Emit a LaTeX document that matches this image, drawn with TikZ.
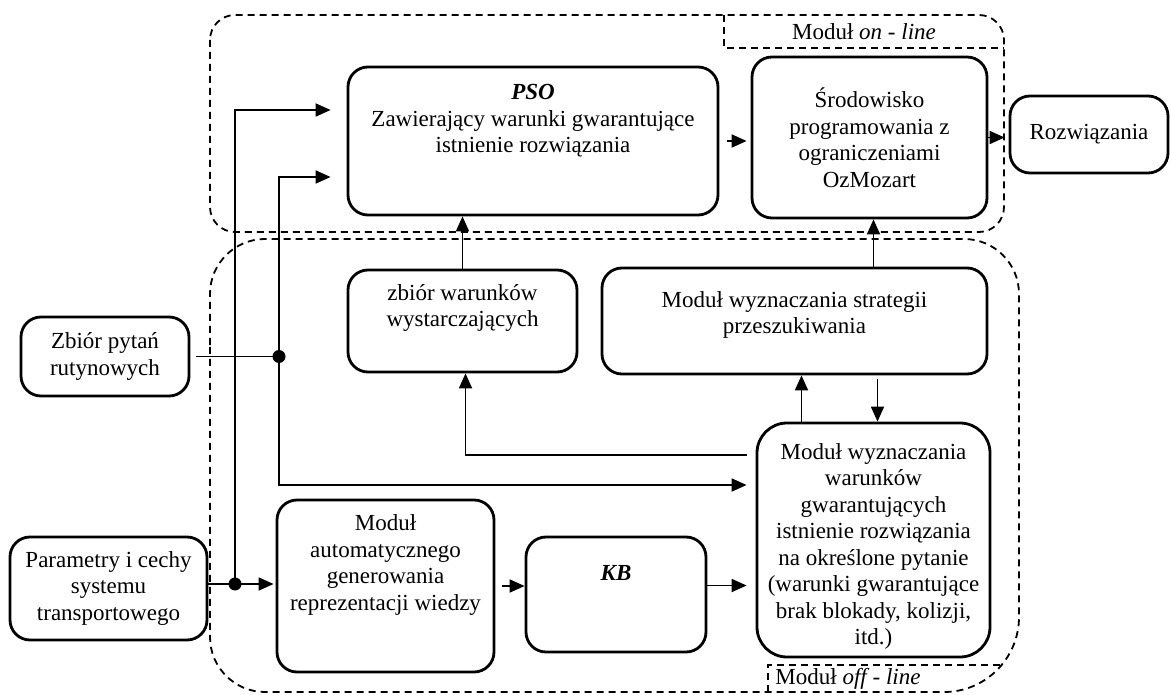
\documentclass[tikz,border=0pt]{standalone}
\usepackage{fontspec}
\setmainfont{Liberation Serif}
\usetikzlibrary{arrows.meta,calc}
\begin{document}
\begin{tikzpicture}[x=1pt,y=-1pt,
  box/.style={draw, line width=2.8pt, rounded corners=20pt, inner sep=0pt,
    align=center, font=\fontsize{23}{26.5}\selectfont},
  txt/.style={align=center, font=\fontsize{23}{26.5}\selectfont, inner sep=0pt},
  conn/.style={line width=1.8pt},
  arr/.style={conn, -{Triangle[length=15pt,width=13pt]}},
  region/.style={line width=1.8pt, dash pattern=on 7pt off 5pt},
  dot/.style={circle, fill, inner sep=0pt, minimum size=13pt}
]
\useasboundingbox (0,0) rectangle (1171,695);

% on-line module
\draw[region, rounded corners=25pt] (210,15) rectangle (1004,232);
\draw[region] (724,15) -- (724,48) -- (1004,48);
\node[txt] (onl) at (864,32) {Moduł \textit{on - line}};

% off-line module
\draw[region] (210,400) [rounded corners=55pt] -- (210,239) -- (1019,239)
  [rounded corners=75pt] -- (1019,692) [rounded corners=55pt] -- (210,692) -- cycle;
\draw[region] (768,692) -- (768,665) -- (1002,665);
\node[txt] (offl) at (848,679) {Moduł \textit{off - line}};

% blocks
\node[box, minimum width=370pt, minimum height=148pt] (pso) at (533,141) {};
\node[txt] (psot) at (533,121) {\textbf{\textit{PSO}}\\Zawierający warunki gwarantujące\\istnienie rozwiązania};

\node[box, minimum width=235pt, minimum height=161pt] (sr) at (869.5,137.5)
  {Środowisko\\programowania z\\ograniczeniami\\OzMozart};

\node[box, minimum width=158pt, minimum height=77pt] (rz) at (1089,134.5) {Rozwiązania};

\node[box, minimum width=229pt, minimum height=102pt] (zw) at (462.5,321) {};
\node[txt] (zwt) at (462.5,308) {zbiór warunków\\wystarczających};

\node[box, minimum width=385pt, minimum height=106pt] (ms) at (794.5,321) {};
\node[txt] (mst) at (794.5,315) {Moduł wyznaczania strategii\\przeszukiwania};

\node[box, minimum width=168pt, minimum height=79pt] (zp) at (105,356.5) {Zbiór pytań\\rutynowych};

\node[box, minimum width=197pt, minimum height=103pt] (par) at (108.5,588.5)
  {Parametry i cechy\\systemu\\transportowego};

\node[box, minimum width=217pt, minimum height=172pt] (ma) at (385.5,586) {};
\node[txt] (mat) at (385.5,565) {Moduł\\automatycznego\\generowania\\reprezentacji wiedzy};

\node[box, minimum width=180pt, minimum height=115pt] (kb) at (616,594.5) {};
\node[txt] (kbt) at (616,573) {\textbf{\textit{KB}}};

\node[box, rounded corners=30pt, minimum width=233pt, minimum height=234pt] (mw) at (873.5,540) {};
\node[txt] (mwt) at (873.5,546.5) {Moduł wyznaczania\\warunków\\gwarantujących\\istnienie rozwiązania\\na określone pytanie\\(warunki gwarantujące\\brak blokady, kolizji,\\itd.)};

% junction dots
\node[dot] (d1) at (279,356.5) {};
\node[dot] (d2) at (235,584) {};

% connectors
\draw[arr, shorten <=8pt, shorten >=4pt] (pso.east) -- (pso.east -| sr.west);
\draw[arr, shorten >=4pt] (sr.east) -- (sr.east -| rz.west);
\draw[arr] (zw.north) -- (zw.north |- pso.south);
\draw[arr] ([xshift=4pt]sr.south |- ms.north) -- ([xshift=4pt]sr.south);
\draw[arr] ([xshift=-72pt]mw.north) -- ([xshift=-72pt]mw.north |- ms.south);
\draw[arr, shorten <=4pt] ([xshift=4pt]mw.north |- ms.south) -- ([xshift=4pt]mw.north);
\draw[arr] ([xshift=-9pt,yshift=-33pt]mw.north west) -| ([xshift=3pt]zw.south);

\draw[conn, shorten <=6pt] (zp.east) -- (d1.center);
\draw[arr, shorten >=16pt] (d1.center) |- ([yshift=-36pt]pso.west);
\draw[arr, shorten >=9pt] (d1.center) |- ([yshift=55pt]mw.west);

\draw[conn] (par.east |- d2) -- (d2.center);
\draw[arr, shorten >=2pt] (d2.center) -- (d2.center -| ma.west);
\draw[arr, shorten >=16pt] (d2.center) |- ([yshift=31pt]pso.west);

\draw[arr, shorten <=7pt] (ma.east) -- (ma.east -| kb.west);
\draw[arr, shorten >=9pt] ([yshift=9pt]kb.east) -- ([yshift=9pt]kb.east -| mw.west);
\end{tikzpicture}
\end{document}
